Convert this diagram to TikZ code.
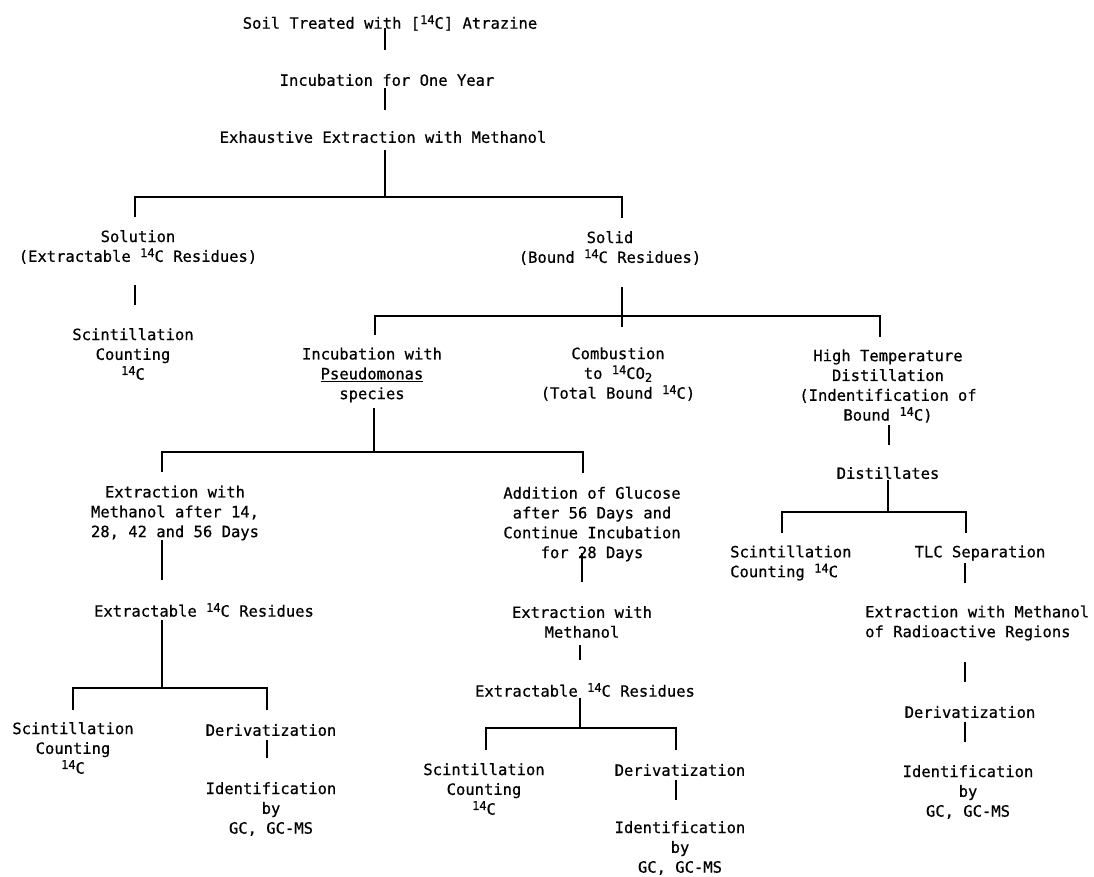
\documentclass[tikz,border=0pt]{standalone}
\usepackage{fontspec}
\newfontfamily\tw[FakeBold=0.6]{DejaVu Sans Mono}
\newcommand\iso{\raisebox{0.55ex}{\fontsize{12}{12}\selectfont 14}}
\newcommand\sbt[1]{\raisebox{-0.35ex}{\fontsize{12}{12}\selectfont #1}}
\begin{document}
\begin{tikzpicture}[x=1pt,y=-1pt,
  txt/.style={inner sep=0pt, align=center, font=\tw\fontsize{15.5}{19.8}\selectfont},
  conn/.style={line width=1.2pt, line cap=butt}]
\useasboundingbox (0,0) rectangle (1094,876);
\fill[white] (0,0) rectangle (1094,876);
% ---- nodes
\node[txt] (soil) at (390,23) {Soil Treated with [\iso C] Atrazine};
\node[txt] (inc) at (387,80) {Incubation for One Year};
\node[txt] (exh) at (383,137) {Exhaustive Extraction with Methanol};
\node[txt] (sol) at (138,247) {Solution\\(Extractable \iso C Residues)};
\node[txt] (sc1) at (133,354) {Scintillation\\Counting\\\iso C};
\node[txt] (solid) at (610,248) {Solid\\(Bound \iso C Residues)};
\node[txt] (pse) at (372,375) {Incubation with\\\underline{Pseudomonas}\\species};
\node[txt] (comb) at (618,374) {Combustion\\to \iso CO\sbt{2}\\(Total Bound \iso C)};
\node[txt] (htd) at (888,386) {High Temperature\\Distillation\\(Indentification of\\Bound \iso C)};
\node[txt] (dist) at (888,473) {Distillates};
\node[txt] (ex1) at (175,513) {Extraction with\\Methanol after 14,\\28, 42 and 56 Days};
\node[txt] (glu) at (592,524) {Addition of Glucose\\after 56 Days and\\Continue Incubation\\for 28 Days};
\node[txt] (res1) at (204,610) {Extractable \iso C Residues};
\node[txt] (sc2) at (73,748) {Scintillation\\Counting\\\iso C};
\node[txt] (der1) at (271,730) {Derivatization};
\node[txt] (id1) at (271,809) {Identification\\by\\GC, GC-MS};
\node[txt] (exm) at (582,622) {Extraction with\\Methanol};
\node[txt] (res2) at (585,690) {Extractable \iso C Residues};
\node[txt] (sc3) at (484,789) {Scintillation\\Counting\\\iso C};
\node[txt] (der2) at (680,770) {Derivatization};
\node[txt] (id2) at (680,848) {Identification\\by\\GC, GC-MS};
\node[txt,align=left,anchor=west] (sc4) at (730,563) {Scintillation\\Counting \iso C};
\node[txt] (tlc) at (980,553) {TLC Separation};
\node[txt,align=left,anchor=west] (rad) at (865,623) {Extraction with Methanol\\of Radioactive Regions};
\node[txt] (der3) at (970,712) {Derivatization};
\node[txt] (id3) at (968,792) {Identification\\by\\GC, GC-MS};
% ---- junction coordinates
\coordinate (j0) at (385,197);
\coordinate (j1) at (622,316);
\coordinate (j2) at (374,452);
\coordinate (j3) at (162,688);
\coordinate (j4) at (580,728);
\coordinate (j5) at (888,512);
% ---- connectors
\draw[conn] (385,28) coordinate (soilB) -- (385,50) coordinate (incT);
\draw[conn] (385,88) coordinate (incB) -- (385,110) coordinate (exhT);
\draw[conn] (385,150) coordinate (exhB) -- (j0);
\draw[conn] (135,217) coordinate (solT) |- (j0) -| (622,218) coordinate (solidT);
\draw[conn] (135,285) coordinate (solB) -- (135,305) coordinate (sc1T);
\draw[conn] (622,287) coordinate (solidB) -- (622,327) coordinate (solidX);
\draw[conn] (375,335) coordinate (pseT) |- (j1) -| (880,337) coordinate (htdT);
\draw[conn] (374,408) coordinate (pseB) -- (j2);
\draw[conn] (162,472) coordinate (ex1T) |- (j2) -| (583,473) coordinate (gluT);
\draw[conn] (162,540) coordinate (ex1B) -- (162,580) coordinate (res1T);
\draw[conn] (162,620) coordinate (res1B) -- (j3);
\draw[conn] (73,710) coordinate (sc2T) |- (j3) -| (267,710) coordinate (der1T);
\draw[conn] (267,740) coordinate (der1B) -- (267,758) coordinate (id1T);
\draw[conn] (582,553) coordinate (gluB) -- (582,582) coordinate (exmT);
\draw[conn] (580,645) coordinate (exmB) -- (580,660) coordinate (res2T);
\draw[conn] (580,698) coordinate (res2B) -- (j4);
\draw[conn] (486,750) coordinate (sc3T) |- (j4) -| (676,750) coordinate (der2T);
\draw[conn] (676,780) coordinate (der2B) -- (676,800) coordinate (id2T);
\draw[conn] (889,425) coordinate (htdB) -- (889,445) coordinate (distT);
\draw[conn] (888,480) coordinate (distB) -- (j5);
\draw[conn] (782,533) coordinate (sc4T) |- (j5) -| (966,533) coordinate (tlcT);
\draw[conn] (965,563) coordinate (tlcB) -- (965,583) coordinate (radT);
\draw[conn] (965,662) coordinate (radB) -- (965,682) coordinate (der3T);
\draw[conn] (965,722) coordinate (der3B) -- (965,742) coordinate (id3T);
\end{tikzpicture}
\end{document}
